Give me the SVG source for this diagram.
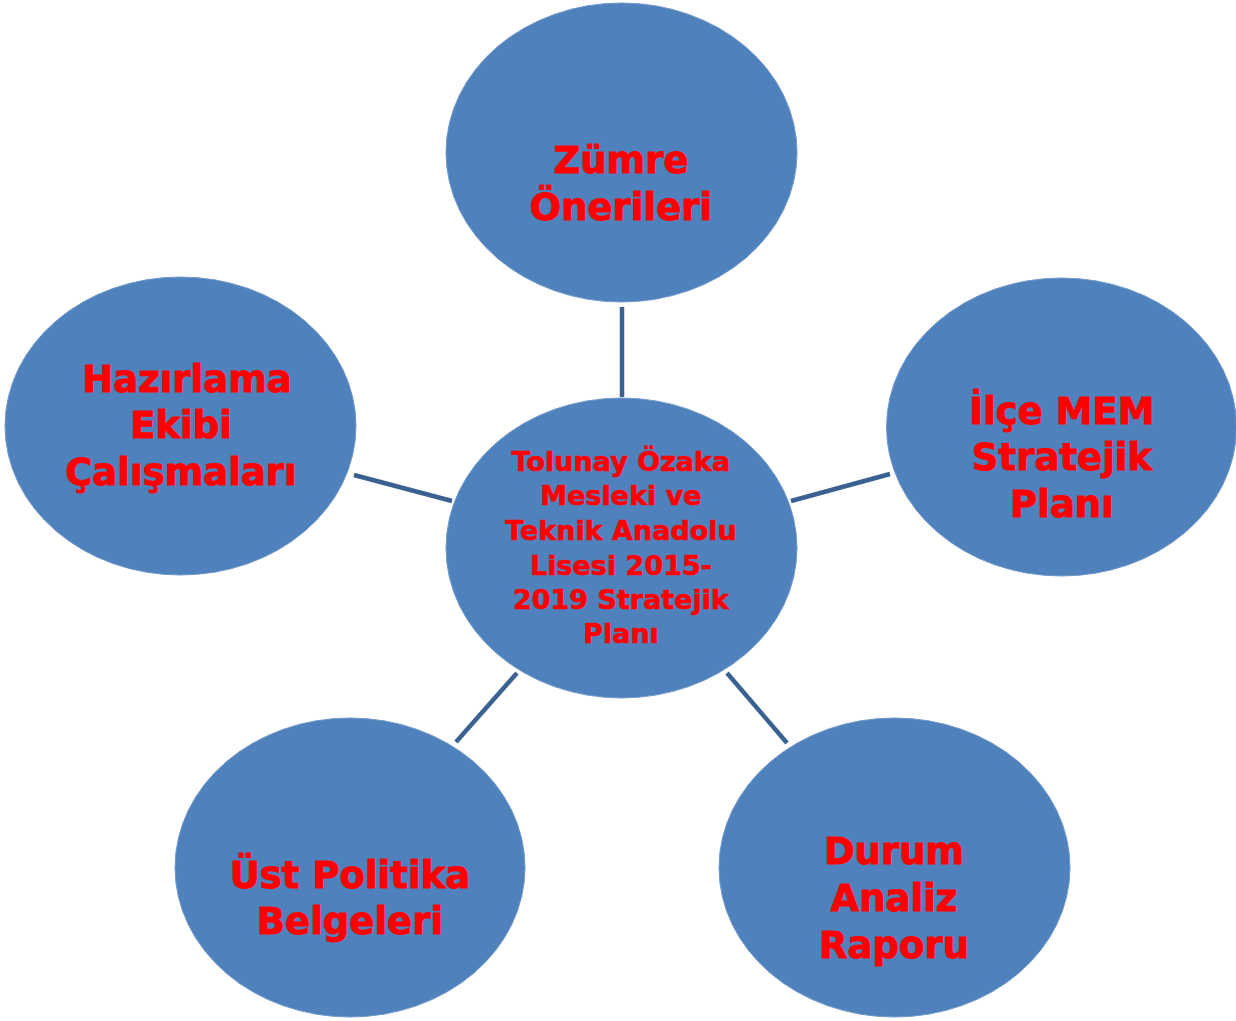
<svg xmlns="http://www.w3.org/2000/svg" width="1236" height="1021" viewBox="0 0 1236 1021">
<style>
.n{fill:#4F81BD;stroke:#6f97c8;stroke-width:1}
.t{font-family:"DejaVu Sans","Verdana",sans-serif;font-weight:bold;fill:#FF0000;stroke:#FF0000;stroke-width:0.9;text-anchor:middle;font-size:37px}
.c{font-size:27px;stroke-width:0.6}
.e{stroke:#3A6190;stroke-width:4.5;fill:none}
</style>
<rect width="1236" height="1021" fill="#ffffff"/>
<g id="connectors">
<line class="e" x1="622" y1="307" x2="622" y2="397"/>
<line class="e" x1="354" y1="475" x2="452" y2="501"/>
<line class="e" x1="791" y1="501" x2="890" y2="474"/>
<line class="e" x1="456" y1="742" x2="517" y2="673"/>
<line class="e" x1="727" y1="673" x2="787" y2="743"/>
</g>
<g id="center">
<ellipse class="n" cx="621.5" cy="548" rx="175.5" ry="150"/>
<text class="t c"><tspan x="621" y="471">Tolunay Özaka</tspan><tspan x="621" y="505">Mesleki ve</tspan><tspan x="621" y="540">Teknik Anadolu</tspan><tspan x="621" y="575">Lisesi 2015-</tspan><tspan x="621" y="609">2019 Stratejik</tspan><tspan x="621" y="643">Planı</tspan></text>
</g>
<g id="zumre">
<ellipse class="n" cx="621.5" cy="152.5" rx="175.5" ry="149.5"/>
<text class="t"><tspan x="621" y="173">Zümre</tspan><tspan x="621" y="220">Önerileri</tspan></text>
</g>
<g id="hazirlama">
<ellipse class="n" cx="180.5" cy="426" rx="175.5" ry="149"/>
<text class="t"><tspan x="187" y="392">Hazırlama</tspan><tspan x="181" y="438">Ekibi</tspan><tspan x="181" y="485">Çalışmaları</tspan></text>
</g>
<g id="ilce">
<ellipse class="n" cx="1061.5" cy="427" rx="175" ry="149"/>
<text class="t"><tspan x="1062" y="424">İlçe MEM</tspan><tspan x="1062" y="470">Stratejik</tspan><tspan x="1062" y="517">Planı</tspan></text>
</g>
<g id="ust">
<ellipse class="n" cx="350" cy="867.5" rx="175" ry="149.5"/>
<text class="t"><tspan x="350" y="888">Üst Politika</tspan><tspan x="350" y="934">Belgeleri</tspan></text>
</g>
<g id="durum">
<ellipse class="n" cx="894.5" cy="867.5" rx="175.5" ry="149.5"/>
<text class="t"><tspan x="894" y="864">Durum</tspan><tspan x="894" y="911">Analiz</tspan><tspan x="894" y="958">Raporu</tspan></text>
</g>
</svg>
